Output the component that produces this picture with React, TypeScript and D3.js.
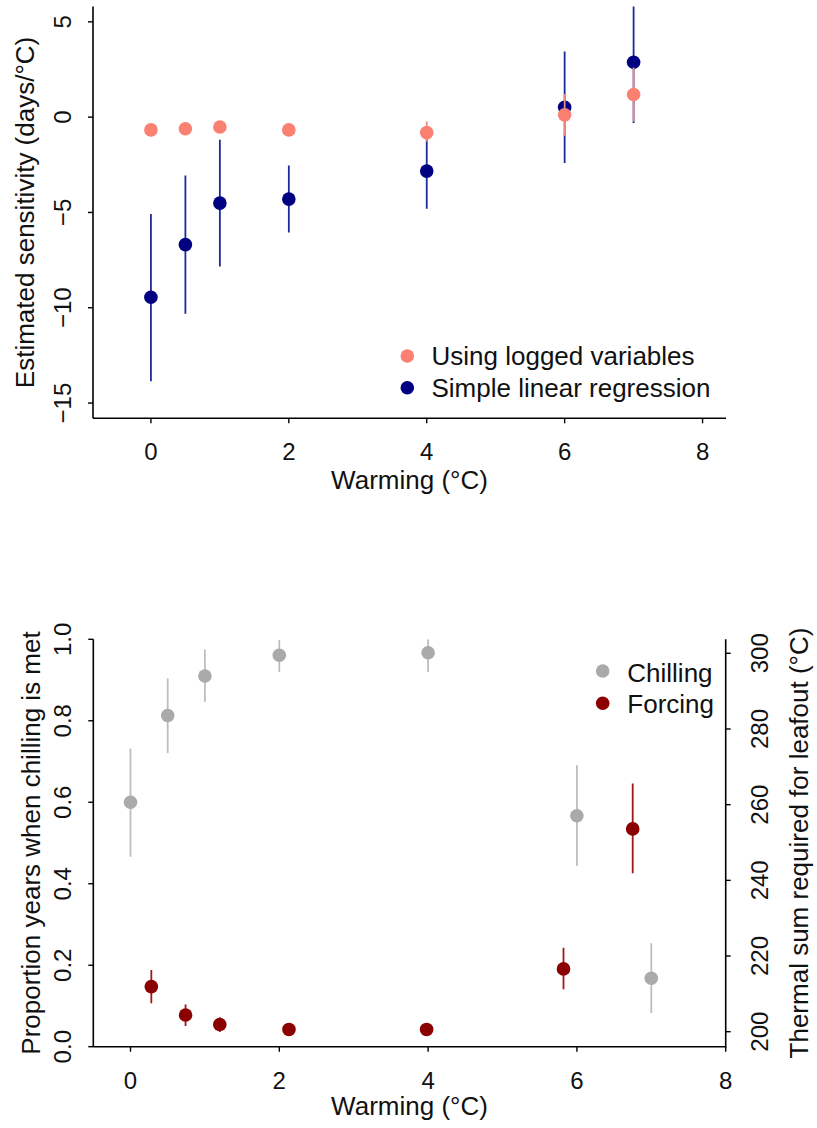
import React from "react";
import * as d3 from "d3";

// ---- Top panel data ----
const topX = [0, 0.5, 1, 2, 4, 6, 7];
const linearEst = [-9.45, -6.69, -4.51, -4.3, -2.83, 0.52, 2.88];
const linearLo = [-13.86, -10.31, -7.83, -6.05, -4.81, -2.41, -0.31];
const linearHi = [-5.08, -3.06, -1.19, -2.54, -0.85, 3.44, 6.07];
const loggedEst = [-0.67, -0.61, -0.52, -0.67, -0.81, 0.12, 1.19];
const loggedLo = [-0.9, -0.85, -0.75, -0.9, -1.28, -0.98, -0.23];
const loggedHi = [-0.45, -0.38, -0.3, -0.45, -0.23, 1.22, 2.6];
const topXTicks = [0, 2, 4, 6, 8];
const topYTicks = [5, 0, -5, -10, -15];
const topLegend = ["Using logged variables", "Simple linear regression"];

// ---- Bottom panel data ----
const chillX = [0, 0.5, 1, 2, 4, 6, 7];
const chillEst = [0.6, 0.813, 0.91, 0.961, 0.967, 0.567, 0.168];
const chillLo = [0.466, 0.721, 0.847, 0.92, 0.92, 0.444, 0.083];
const chillHi = [0.732, 0.904, 0.975, 0.998, 1.0, 0.691, 0.254];
const forceX = [0.28, 0.74, 1.2, 2.13, 3.98, 5.82, 6.75];
const forceEst = [211.9, 204.4, 201.9, 200.6, 200.6, 216.6, 253.6];
const forceLo = [207.5, 201.5, 199.9, 199.6, 199.6, 211.2, 241.9];
const forceHi = [216.3, 207.2, 203.8, 201.6, 201.6, 222.2, 265.6];
const botXTicks = [0, 2, 4, 6, 8];
const botYTicks = [0, 0.2, 0.4, 0.6, 0.8, 1.0];
const botY2Ticks = [200, 220, 240, 260, 280, 300];
const botLegend = ["Chilling", "Forcing"];

const FONT = "'Liberation Sans', Arial, Helvetica, sans-serif";
const PINK = "#fa8072";
const NAVY = "#000080";
const NAVY_LINE = "#1c2b9c";
const GREY = "#aaaaaa";
const GREY_LINE = "#bdbdbd";
const DARKRED = "#8b0000";
const R = 6.8;

const fmtMinus = (v: number) => (v < 0 ? "\u2212" + Math.abs(v) : String(v));

export default function App() {
  // top scales
  const tx = d3.scaleLinear().domain([-0.84, 8.34]).range([93, 726]);
  const ty = d3.scaleLinear().domain([-15.8, 5.8]).range([418.3, 6.6]);
  // bottom scales
  const bx = d3.scaleLinear().domain([-0.5, 8]).range([93.3, 725.7]);
  const by = d3.scaleLinear().domain([0, 1]).range([1046.7, 639.3]);
  const by2 = d3.scaleLinear().domain([200, 300]).range([1031.7, 653.3]);

  const tickSize = 24;
  const labSize = 26;

  return (
    <div style={{ position: "absolute", left: 0, top: 0 }}>
      <svg width={817} height={1128} style={{ display: "block", background: "#fff" }} fontFamily={FONT}>
        <defs>
          <clipPath id="clipTop">
            <rect x={tx.range()[0]} y={ty.range()[1]} width={tx.range()[1] - tx.range()[0]} height={ty.range()[0] - ty.range()[1]} />
          </clipPath>
          <clipPath id="clipBot">
            <rect x={bx.range()[0]} y={by.range()[1]} width={bx.range()[1] - bx.range()[0]} height={by.range()[0] - by.range()[1]} />
          </clipPath>
        </defs>

        {/* ===== TOP PANEL ===== */}
        <g clipPath="url(#clipTop)">
          {topX.map((x, i) => (
            <line key={"lci" + i} x1={tx(x)} x2={tx(x)} y1={ty(linearLo[i])} y2={ty(linearHi[i])} stroke={NAVY_LINE} strokeWidth={1.8} />
          ))}
          {topX.map((x, i) => (
            <circle key={"lpt" + i} cx={tx(x)} cy={ty(linearEst[i])} r={R} fill={NAVY} />
          ))}
          {topX.map((x, i) => (
            <line key={"gci" + i} x1={tx(x)} x2={tx(x)} y1={ty(loggedLo[i])} y2={ty(loggedHi[i])} stroke="#ee8a86" strokeWidth={1.8} />
          ))}
          {topX.map((x, i) => (
            <circle key={"gpt" + i} cx={tx(x)} cy={ty(loggedEst[i])} r={R} fill={PINK} />
          ))}
        </g>
        {/* axes */}
        <line x1={tx.range()[0]} x2={tx.range()[0]} y1={ty.range()[1]} y2={ty.range()[0]} stroke="#000" strokeWidth={1.6} />
        <line x1={tx.range()[0]} x2={tx.range()[1]} y1={ty.range()[0]} y2={ty.range()[0]} stroke="#000" strokeWidth={1.6} />
        {topYTicks.map((t) => (
          <g key={"ty" + t}>
            <line x1={tx.range()[0] - 5} x2={tx.range()[0]} y1={ty(t)} y2={ty(t)} stroke="#000" strokeWidth={1.4} />
            <text transform={`translate(71,${ty(t)}) rotate(-90)`} textAnchor="middle" fontSize={tickSize} fill="#111">
              {fmtMinus(t)}
            </text>
          </g>
        ))}
        {topXTicks.map((t) => (
          <g key={"tx" + t}>
            <line x1={tx(t)} x2={tx(t)} y1={ty.range()[0]} y2={ty.range()[0] + 5} stroke="#000" strokeWidth={1.4} />
            <text x={tx(t)} y={459.5} textAnchor="middle" fontSize={tickSize} fill="#111">
              {t}
            </text>
          </g>
        ))}
        <text x={(tx.range()[0] + tx.range()[1]) / 2} y={488.5} textAnchor="middle" fontSize={labSize} fill="#111">
          Warming (°C)
        </text>
        <text transform={`translate(33.5,${(ty.range()[0] + ty.range()[1]) / 2}) rotate(-90)`} textAnchor="middle" fontSize={labSize} fill="#111">
          Estimated sensitivity (days/°C)
        </text>
        {/* legend */}
        {topLegend.map((lab, i) => (
          <g key={"tl" + i}>
            <circle cx={407.3} cy={356 + i * 31.7} r={R} fill={i === 0 ? PINK : NAVY} />
            <text x={431.5} y={365 + i * 31.7} fontSize={labSize} fill="#111">
              {lab}
            </text>
          </g>
        ))}

        {/* ===== BOTTOM PANEL ===== */}
        <g clipPath="url(#clipBot)">
          {chillX.map((x, i) => (
            <line key={"cci" + i} x1={bx(x)} x2={bx(x)} y1={by(chillLo[i])} y2={by(chillHi[i])} stroke={GREY_LINE} strokeWidth={1.8} />
          ))}
          {chillX.map((x, i) => (
            <circle key={"cpt" + i} cx={bx(x)} cy={by(chillEst[i])} r={R} fill={GREY} />
          ))}
          {forceX.map((x, i) => (
            <line key={"fci" + i} x1={bx(x)} x2={bx(x)} y1={by2(forceLo[i])} y2={by2(forceHi[i])} stroke="#a01818" strokeWidth={1.8} />
          ))}
          {forceX.map((x, i) => (
            <circle key={"fpt" + i} cx={bx(x)} cy={by2(forceEst[i])} r={R} fill={DARKRED} />
          ))}
        </g>
        {/* axes */}
        <line x1={bx.range()[0]} x2={bx.range()[0]} y1={by.range()[1]} y2={by.range()[0]} stroke="#000" strokeWidth={1.6} />
        <line x1={bx.range()[1]} x2={bx.range()[1]} y1={by.range()[1]} y2={by.range()[0] + 1} stroke="#000" strokeWidth={1.6} />
        <line x1={bx.range()[0]} x2={bx.range()[1]} y1={by.range()[0]} y2={by.range()[0]} stroke="#000" strokeWidth={1.6} />
        {botYTicks.map((t) => (
          <g key={"by" + t}>
            <line x1={bx.range()[0] - 5} x2={bx.range()[0]} y1={by(t)} y2={by(t)} stroke="#000" strokeWidth={1.4} />
            <text transform={`translate(71,${by(t)}) rotate(-90)`} textAnchor="middle" fontSize={tickSize} fill="#111">
              {t.toFixed(1)}
            </text>
          </g>
        ))}
        {botY2Ticks.map((t) => (
          <g key={"by2" + t}>
            <line x1={bx.range()[1]} x2={bx.range()[1] + 5} y1={by2(t)} y2={by2(t)} stroke="#000" strokeWidth={1.4} />
            <text transform={`translate(768,${by2(t)}) rotate(-90)`} textAnchor="middle" fontSize={tickSize} fill="#111">
              {t}
            </text>
          </g>
        ))}
        {botXTicks.map((t) => (
          <g key={"bx" + t}>
            <line x1={bx(t)} x2={bx(t)} y1={by.range()[0]} y2={by.range()[0] + 5} stroke="#000" strokeWidth={1.4} />
            <text x={bx(t)} y={1088.5} textAnchor="middle" fontSize={tickSize} fill="#111">
              {t}
            </text>
          </g>
        ))}
        <text x={(bx.range()[0] + bx.range()[1]) / 2} y={1115} textAnchor="middle" fontSize={labSize} fill="#111">
          Warming (°C)
        </text>
        <text transform={`translate(40,${(by.range()[0] + by.range()[1]) / 2}) rotate(-90)`} textAnchor="middle" fontSize={labSize} fill="#111">
          Proportion years when chilling is met
        </text>
        <text transform={`translate(808,${(by.range()[0] + by.range()[1]) / 2}) rotate(-90)`} textAnchor="middle" fontSize={labSize} fill="#111">
          Thermal sum required for leafout (°C)
        </text>
        {botLegend.map((lab, i) => (
          <g key={"bl" + i}>
            <circle cx={602.7} cy={671 + i * 32.3} r={R} fill={i === 0 ? GREY : DARKRED} />
            <text x={627.3} y={681.7 + i * 31} fontSize={labSize} fill="#111">
              {lab}
            </text>
          </g>
        ))}
      </svg>
    </div>
  );
}
